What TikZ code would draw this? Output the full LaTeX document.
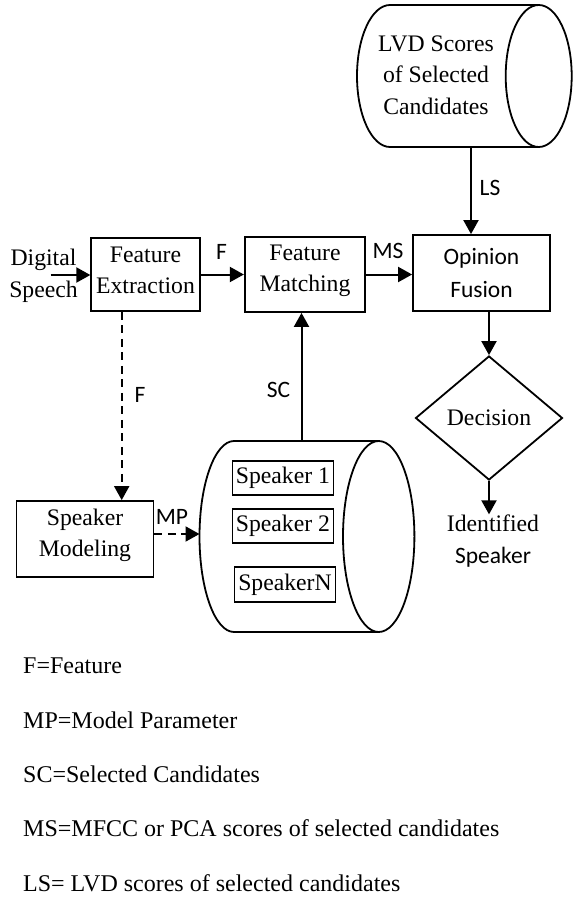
\documentclass[tikz,border=0pt]{standalone}
\usepackage{fontspec}
\setmainfont{Liberation Serif}
\newfontfamily\calib{Carlito}
\usetikzlibrary{arrows.meta,shapes.geometric}
\begin{document}
\begin{tikzpicture}[x=1pt,y=-1pt,
  every node/.style={font=\fontsize{23.7}{31.5}\selectfont},
  box/.style={draw, line width=1.8pt, inner sep=0pt, align=center},
  lbl/.style={font=\calib\fontsize{23.5}{31}\selectfont, inner sep=0pt},
  arr/.style={line width=2pt, -{Triangle[length=14pt,width=15pt]}},
  darr/.style={arr, dash pattern=on 8pt off 5.5pt},
  legend/.style={anchor=base west, inner sep=0pt, font=\fontsize{24}{28}\selectfont},
  cyl/.style={line width=1.8pt}
]
\useasboundingbox (0,0) rectangle (573,899);

% LVD cylinder
\draw[cyl] (538.7,5) -- (390,5) arc[start angle=270, end angle=90, x radius=33, y radius=71] -- (538.7,147);
\draw[cyl] (538.7,76) ellipse[x radius=33, y radius=71];
\node[inner sep=0pt, align=center] (lvd) at (436,75) {LVD Scores\\of Selected\\Candidates};
\coordinate (lvdbot) at (471,147);

% Speaker cylinder
\draw[cyl] (378.7,441) -- (234,441) arc[start angle=270, end angle=90, x radius=34.5, y radius=95.5] -- (378.7,632);
\draw[cyl] (378.7,536.5) ellipse[x radius=35.7, y radius=95.5];
\coordinate (spktop) at (301.5,441);
\coordinate (spkleft) at (199.5,534);

% boxes
\node[box, minimum width=108.5pt, minimum height=73pt, text depth=9pt] (fe) at (145.5,274.5) {Feature\\Extraction};
\node[box, minimum width=120.5pt, minimum height=75pt, text depth=12.5pt] (fm) at (305,274.5) {Feature\\Matching};
\node[box, font=\calib\fontsize{23.5}{32.5}\selectfont, minimum width=137pt, minimum height=76pt] (of) at (481.5,273) {Opinion\\Fusion};
\node[box, minimum width=137pt, minimum height=76pt, text depth=12.5pt] (sm) at (85,539) {Speaker\\Modeling};
\node[draw, diamond, line width=1.8pt, minimum width=147pt, minimum height=124pt, inner sep=0pt] (dec) at (489,418) {Decision};

\node[box, minimum width=101pt, minimum height=34pt] (s1) at (282.9,478) {Speaker 1};
\node[box, minimum width=101pt, minimum height=34pt] (s2) at (282.9,526) {Speaker 2};
\node[box, minimum width=101pt, minimum height=35pt] (sn) at (285,584.5) {SpeakerN};

\node[inner sep=0pt, align=center] (ds) at (43.5,276) {Digital\\Speech};
\coordinate (dsin) at (50.5,275);
\node[inner sep=0pt] (idt) at (493,523) {Identified};
\node[lbl] (ids) at (493,557) {Speaker};

% connectors
\draw[arr] (dsin) -- (dsin -| fe.west);
\draw[arr] (fe.east) -- (fm.west);
\draw[arr] (fm.east) -- (fm.east -| of.west);
\draw[arr] (lvdbot) -- (lvdbot |- of.north);
\draw[darr] ([xshift=-23.8pt]fe.south) -- ([xshift=-23.8pt]fe.south |- sm.north);
\draw[darr] (spkleft -| sm.east) -- (spkleft);
\draw[arr] (spktop) -- (spktop |- fm.south);
\draw[arr] (of.south -| dec.north) -- (dec.north);
\draw[arr] (dec.south) -- (dec.south |- idt.north);

% labels
\node[lbl] (lF1) at (221.5,252) {F};
\node[lbl] (lMS) at (388,251) {MS};
\node[lbl] (lLS) at (490,188) {LS};
\node[lbl] (lSC) at (278.5,390) {SC};
\node[lbl] (lF2) at (140,395) {F};
\node[lbl] (lMP) at (172,517) {MP};

% legend
\node[legend] (g1) at (23,673) {F=Feature};
\node[legend] (g2) at (23,728) {MP=Model Parameter};
\node[legend] (g3) at (23,782) {SC=Selected Candidates};
\node[legend] (g4) at (23,836) {MS=MFCC or PCA scores of selected candidates};
\node[legend] (g5) at (23,891) {LS= LVD scores of selected candidates};
\end{tikzpicture}
\end{document}
